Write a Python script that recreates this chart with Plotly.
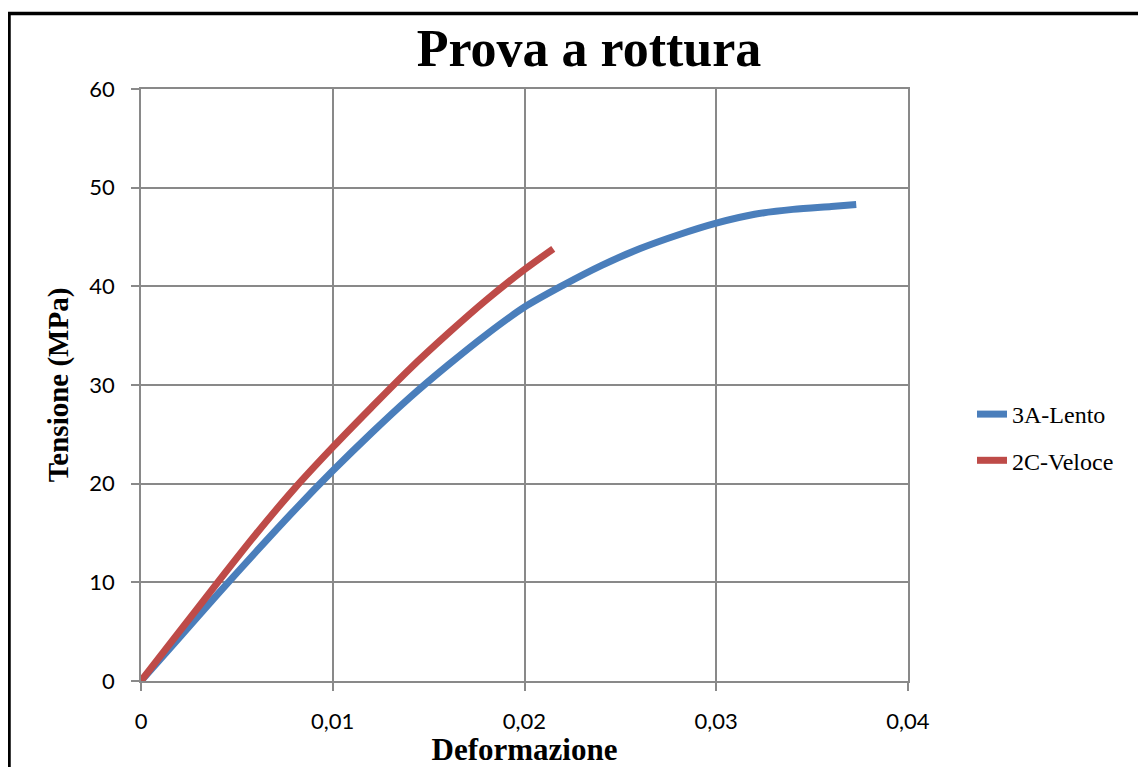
import plotly.graph_objects as go

# Data
lento_strain = [0.0, 0.002, 0.004, 0.006, 0.008, 0.010, 0.012, 0.014, 0.016, 0.018,
                0.020, 0.022, 0.024, 0.026, 0.028, 0.030, 0.032, 0.034, 0.036, 0.0373]
lento_stress = [0.0, 4.4, 8.8, 13.1, 17.3, 21.3, 25.1, 28.7, 32.0, 35.1,
                37.9, 40.1, 42.1, 43.8, 45.2, 46.4, 47.3, 47.8, 48.1, 48.3]

veloce_strain = [0.0, 0.002, 0.004, 0.006, 0.008, 0.010, 0.012, 0.014, 0.016,
                 0.018, 0.020, 0.0215]
veloce_stress = [0.0, 5.0, 10.0, 14.9, 19.5, 23.7, 27.7, 31.6, 35.2,
                 38.6, 41.7, 43.8]

series_names = ["3A-Lento", "2C-Veloce"]
x_ticks = [0, 0.01, 0.02, 0.03, 0.04]
x_tick_labels = ["0", "0,01", "0,02", "0,03", "0,04"]
y_ticks = [0, 10, 20, 30, 40, 50, 60]

BLUE = "#4A7EBB"
RED = "#BE4B48"
GRID = "#898989"

fig = go.Figure()
fig.add_trace(go.Scatter(x=lento_strain, y=lento_stress, mode="lines", name=series_names[0],
                         legendgroup="a",
                         line=dict(color=BLUE, width=7, shape="spline", smoothing=0.8)))
fig.add_trace(go.Scatter(x=veloce_strain, y=veloce_stress, mode="lines", name=series_names[1],
                         legendgroup="b",
                         line=dict(color=RED, width=7, shape="spline", smoothing=0.8)))

# page has an 8px body margin: figure origin sits at page (8, 8)
OFF = 8
W, H = 1146 - OFF, 767 - OFF
L, T = 141 - OFF, 89 - OFF
R = W - (908 - OFF)
B = H - (681 - OFF)
pw, ph = W - L - R, H - T - B

def px_x(p):  # page pixel -> paper x
    return (p - OFF - L) / pw

def px_y(p):  # page pixel -> paper y
    return (H - B - (p - OFF)) / ph

fig.update_layout(
    width=W, height=H,
    margin=dict(l=L, r=R, t=T, b=B, autoexpand=False),
    paper_bgcolor="white", plot_bgcolor="white",
    separators=",.",
    title=dict(text="<b>Prova a rottura</b>", x=px_x(589), xanchor="center", xref="paper",
               y=1 - (48 - OFF) / H, yanchor="middle",
               font=dict(family="Liberation Serif", size=52, color="black")),
    xaxis=dict(range=[0, 0.04], tickvals=x_ticks, ticktext=x_tick_labels,
               showgrid=True, gridcolor=GRID, gridwidth=1.5,
               showline=True, linecolor=GRID, linewidth=1.5, mirror=True,
               ticks="outside", ticklen=8, tickcolor=GRID, tickwidth=1.5,
               ticklabelstandoff=12, zeroline=False,
               tickfont=dict(family="Lato", size=22, color="black"),
               title=dict(text="<b>Deformazione</b>", standoff=15,
                          font=dict(family="Liberation Serif", size=31, color="black"))),
    yaxis=dict(range=[0, 60], tickvals=y_ticks,
               showgrid=True, gridcolor=GRID, gridwidth=1.5,
               showline=True, linecolor=GRID, linewidth=1.5, mirror=True,
               ticks="outside", ticklen=8, tickcolor=GRID, tickwidth=1.5,
               ticklabelstandoff=12, zeroline=False,
               tickfont=dict(family="Lato", size=22, color="black"),
               title=dict(text="<b>Tensione (MPa)</b>", standoff=12,
                          font=dict(family="Liberation Serif", size=29, color="black"))),
    legend=dict(x=px_x(972), xanchor="left", y=px_y(437.5), yanchor="middle",
                traceorder="grouped", tracegroupgap=12,
                font=dict(family="Liberation Serif", size=24, color="black"),
                bgcolor="rgba(0,0,0,0)"),
    showlegend=True,
)

# outer chart frame (top and left edges visible in the reference)
fig.add_shape(type="line", xref="paper", yref="paper",
              x0=px_x(9), x1=px_x(9), y0=px_y(780), y1=px_y(13.5),
              line=dict(color="black", width=3.5))
fig.add_shape(type="line", xref="paper", yref="paper",
              x0=px_x(7.3), x1=px_x(1160), y0=px_y(13.5), y1=px_y(13.5),
              line=dict(color="black", width=3.5))

fig.write_html("out.html")
